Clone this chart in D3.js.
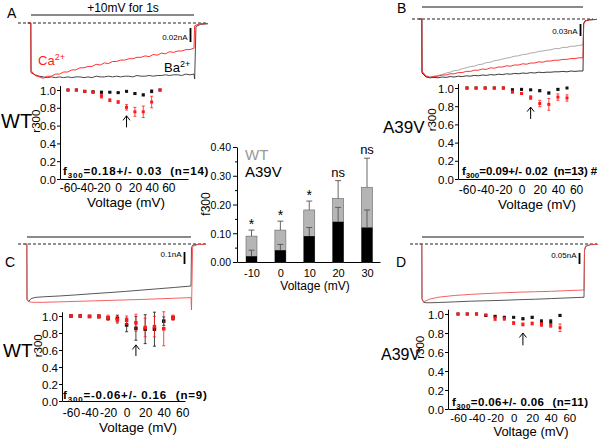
<!DOCTYPE html>
<html><head><meta charset="utf-8">
<script src="https://cdn.jsdelivr.net/npm/d3@7"></script>
<style>
html,body{margin:0;padding:0;background:#fff;}
svg{display:block;font-family:"Liberation Sans",Arial,Helvetica,sans-serif;}
</style></head><body>
<svg id="fig" width="600" height="439"></svg>
<script>
// ---------------- DATA ----------------
const voltages = [-60,-50,-40,-30,-20,-10,0,10,20,30,40,50];
const xTickLabels = [-60,-40,-20,0,20,40,60];
const yTickLabels = [0,0.2,0.4,0.6,0.8,1.0];

const panelA_redR300   = [1.0,1.0,0.985,0.975,0.93,0.885,0.865,0.805,0.755,0.755,0.865,1.0];
const panelA_redErr    = [0,0,0.005,0.01,0.02,0.015,0.015,0.03,0.05,0.065,0.065,0];
const panelA_blackR300 = [1.0,1.0,0.985,0.98,0.975,0.975,0.97,0.985,0.96,0.945,0.985,1.0];
const panelA_blackErr  = [0,0,0.005,0.005,0.01,0.005,0.005,0.005,0.01,0.01,0.015,0];

const panelB_redR300   = [1,1,1,1,1,0.955,0.94,0.895,0.83,0.82,0.9,0.89];
const panelB_redErr    = [0,0,0,0,0,0.01,0.01,0.02,0.035,0.065,0.035,0.035];
const panelB_blackR300 = [1,1,1,1,1,0.98,0.985,0.98,0.97,0.945,0.985,1.0];
const panelB_blackErr  = [0,0,0,0,0,0.01,0.01,0.005,0.01,0.01,0.01,0];

const panelC_redR300   = [1.0,1.0,0.995,0.995,0.98,0.955,0.95,0.92,0.865,0.875,0.85,0.98];
const panelC_redErr    = [0,0,0.01,0.02,0.03,0.04,0.05,0.1,0.11,0.12,0.2,0.03];
const panelC_blackR300 = [1.0,1.0,0.995,0.995,0.975,0.97,0.895,0.855,0.845,0.845,0.94,0.98];
const panelC_blackErr  = [0,0,0.01,0.015,0.02,0.04,0.08,0.14,0.17,0.2,0.05,0.02];

const panelD_redR300   = [1,1,1,0.99,0.95,0.95,0.905,0.89,0.9,0.89,0.88,0.855];
const panelD_redErr    = [0,0,0,0,0.02,0.015,0.015,0.015,0.015,0.02,0.02,0.04];
const panelD_blackR300 = [1,1,1,0.985,0.975,0.965,0.965,0.95,0.965,0.92,0.92,0.985];
const panelD_blackErr  = [0,0,0,0.01,0.01,0.01,0.005,0.01,0.01,0.02,0.02,0.01];

const f300Text = ["0.18+/- 0.03","0.09+/- 0.02","-0.06+/- 0.16","0.06+/- 0.06"];
const nCells   = [14,13,9,11];
const groupNames = ["WT","A39V","WT","A39V"];
const sigMarks = ["","#","",""];

// current traces (ms, nA)
const traceTimeAB = [-20,-1,0,25,50,75,100,125,150,175,200,225,250,275,300,325,350,375,400,425,450,475,500,525,550,575,600,625,650,675,700,725,750,775,800,825,850,875,900,925,950,975,1000,1004,1012,1040,1085];
const traceA_Ca = [0,0,-0.068,-0.075,-0.077,-0.079,-0.076,-0.076,-0.073,-0.073,-0.070,-0.070,-0.067,-0.067,-0.064,-0.064,-0.062,-0.062,-0.059,-0.060,-0.057,-0.058,-0.055,-0.055,-0.053,-0.053,-0.051,-0.051,-0.049,-0.049,-0.047,-0.048,-0.045,-0.046,-0.043,-0.044,-0.041,-0.042,-0.040,-0.040,-0.038,-0.038,-0.036,-0.004,-0.003,-0.001,-0.001];
const traceA_Ba = [0,0,-0.071,-0.074,-0.076,-0.077,-0.078,-0.077,-0.078,-0.077,-0.078,-0.077,-0.078,-0.077,-0.077,-0.078,-0.077,-0.078,-0.076,-0.077,-0.077,-0.076,-0.077,-0.076,-0.077,-0.076,-0.076,-0.077,-0.075,-0.076,-0.076,-0.075,-0.076,-0.075,-0.075,-0.074,-0.075,-0.074,-0.074,-0.075,-0.073,-0.074,-0.073,-0.080,-0.005,-0.002,-0.001];
const traceB_gray = [0,0,-0.130,-0.142,-0.145,-0.143,-0.141,-0.139,-0.135,-0.133,-0.129,-0.128,-0.124,-0.122,-0.119,-0.118,-0.114,-0.113,-0.109,-0.108,-0.104,-0.103,-0.100,-0.098,-0.096,-0.093,-0.092,-0.089,-0.088,-0.085,-0.084,-0.081,-0.080,-0.078,-0.077,-0.074,-0.074,-0.071,-0.071,-0.068,-0.068,-0.066,-0.065,-0.012,-0.005,-0.002,-0.001];
const traceB_red = [0,0,-0.132,-0.143,-0.146,-0.144,-0.143,-0.140,-0.140,-0.137,-0.137,-0.134,-0.134,-0.131,-0.131,-0.128,-0.128,-0.125,-0.126,-0.122,-0.123,-0.120,-0.120,-0.117,-0.118,-0.115,-0.115,-0.112,-0.113,-0.110,-0.110,-0.107,-0.108,-0.105,-0.105,-0.103,-0.103,-0.101,-0.101,-0.099,-0.099,-0.097,-0.097,-0.012,-0.005,-0.002,-0.001];
const traceB_black = [0,0,-0.135,-0.145,-0.147,-0.146,-0.147,-0.145,-0.146,-0.144,-0.145,-0.143,-0.144,-0.142,-0.143,-0.141,-0.142,-0.140,-0.141,-0.139,-0.140,-0.138,-0.139,-0.137,-0.138,-0.136,-0.137,-0.135,-0.136,-0.134,-0.135,-0.133,-0.134,-0.133,-0.133,-0.132,-0.132,-0.131,-0.132,-0.130,-0.131,-0.130,-0.130,-0.012,-0.005,-0.002,-0.001];

const traceTimeCD = [-15,-1,0,10,25,50,100,200,300,400,500,600,700,800,900,1000,1003,1010,1040,1085];
const traceC_red   = [0,0,-0.46,-0.48,-0.485,-0.486,-0.486,-0.482,-0.478,-0.474,-0.470,-0.466,-0.462,-0.457,-0.452,-0.447,-0.55,-0.02,-0.005,-0.003];
const traceC_black = [0,0,-0.46,-0.48,-0.455,-0.445,-0.44,-0.433,-0.424,-0.414,-0.405,-0.395,-0.384,-0.373,-0.362,-0.35,-0.03,-0.01,-0.004,-0.002];
const traceD_red   = [0,0,-0.25,-0.262,-0.258,-0.25,-0.242,-0.234,-0.229,-0.225,-0.222,-0.219,-0.217,-0.215,-0.212,-0.209,-0.03,-0.01,-0.003,-0.001];
const traceD_black = [0,0,-0.25,-0.265,-0.267,-0.267,-0.266,-0.263,-0.26,-0.258,-0.256,-0.253,-0.251,-0.248,-0.245,-0.242,-0.03,-0.01,-0.003,-0.001];
const scaleBarNA = [0.02,0.03,0.1,0.05];

// centre bar chart
const barVoltages = [-10,0,10,20,30];
const wtF300   = [0.09,0.111,0.181,0.221,0.26];
const wtErr    = [0.021,0.031,0.031,0.062,0.101];
const a39vF300 = [0.02,0.041,0.09,0.14,0.12];
const a39vErr  = [0.021,0.02,0.03,0.05,0.061];
const sigLabels = ["*","*","*","ns","ns"];
const barYTicks = [0,0.1,0.2,0.3,0.4];

// ---------------- DRAW ----------------
const svg = d3.select("#fig");
const RED = "#ff1a1a";

function styleAxis(g, size) {
  g.attr("font-family", null).attr("font-size", null);
  g.selectAll(".domain").attr("stroke", "#000").attr("stroke-width", 1);
  g.selectAll(".tick line").attr("stroke", "#000");
  g.selectAll("text").attr("fill", "#000").style("font-size", size + "px");
}

function drawTraces(cfg, time, series, scaleNA) {
  const g = svg.append("g");
  const x = d3.scaleLinear().domain([0, 1000]).range([cfg.x0, cfg.x1]);
  const y = d3.scaleLinear().domain([0, -0.1]).range([cfg.base, cfg.base + 0.1 * cfg.pxPerNA]);
  g.append("line").attr("x1", x(0)).attr("x2", x(1000)).attr("y1", cfg.stimY).attr("y2", cfg.stimY)
    .attr("stroke", "#8a8a8a").attr("stroke-width", 2);
  g.append("line").attr("x1", x(cfg.dash0)).attr("x2", x(cfg.dash1)).attr("y1", y(0)).attr("y2", y(0))
    .attr("stroke", "#222").attr("stroke-width", 1).attr("stroke-dasharray", "3,2");
  const line = d3.line().x((d, i) => x(time[i])).y(d => y(d));
  series.forEach(s => {
    g.append("path").attr("d", line(s.values)).attr("fill", "none")
      .attr("stroke", s.color).attr("stroke-width", s.w || 0.9).attr("stroke-linejoin", "round");
  });
  g.append("line").attr("x1", cfg.sbX).attr("x2", cfg.sbX)
    .attr("y1", cfg.sbTop).attr("y2", cfg.sbTop + (y(-scaleNA) - y(0)))
    .attr("stroke", "#000").attr("stroke-width", 1.8);
  g.append("text").attr("x", cfg.sbX - 3).attr("y", cfg.sbLabelY).attr("text-anchor", "end")
    .style("font-size", "8px").text(scaleNA + "nA");
  return g;
}

function drawScatter(cfg, idx, red, redErr, black, blackErr) {
  const g = svg.append("g");
  const x = d3.scaleLinear().domain([-60, 50]).range([cfg.x60, cfg.x50]);
  const y = d3.scaleLinear().domain([0, 1]).range([cfg.y0, cfg.y1]);
  const xa = x.copy().domain([x.invert(cfg.axisX), x.invert(cfg.axisEnd)]).range([cfg.axisX, cfg.axisEnd]);
  const gx = g.append("g").attr("transform", `translate(0,${cfg.y0})`)
    .call(d3.axisBottom(xa).tickValues(xTickLabels).tickSize(0).tickSizeOuter(0).tickFormat(d => String(d)));
  styleAxis(gx, cfg.xTickSize || 12);
  gx.selectAll("text").attr("y", cfg.tickBase - cfg.y0).attr("dy", 0);
  const ya = y.copy().domain([0, 1.05]).range([cfg.y0, y(1.05)]);
  const gy = g.append("g").attr("transform", `translate(${cfg.axisX},0)`)
    .call(d3.axisLeft(ya).tickValues(yTickLabels).tickSize(3).tickSizeOuter(0).tickPadding(1).tickFormat(d3.format(".1f")));
  styleAxis(gy, 11.5);
  gy.selectAll("text").attr("dy", "0.36em");

  g.append("text").attr("x", cfg.titleX).attr("y", cfg.titleBase).attr("text-anchor", "middle")
    .style("font-size", (cfg.titleSize || 13.5) + "px").text("Voltage (mV)");
  g.append("text").attr("transform", `translate(${cfg.r300X},${y(0.65)}) rotate(-90)`)
    .attr("text-anchor", "middle").style("font-size", "11.5px").text("r300");
  g.append("text").attr("x", cfg.grpX).attr("y", cfg.grpBase)
    .style("font-size", cfg.grpSize + "px").text(groupNames[idx]);

  const ft = g.append("text").attr("x", cfg.fX).attr("y", cfg.fBase)
    .style("font-size", "11.5px").style("font-weight", "bold").style("letter-spacing", cfg.fSpacing + "px");
  ft.append("tspan").text("f");
  ft.append("tspan").attr("dy", 2.5).style("font-size", "8px").text("300");
  ft.append("tspan").attr("dy", -2.5).text("=" + f300Text[idx]);
  ft.append("tspan").attr("dx", cfg.fGap).text("(n=" + nCells[idx] + ")");
  if (sigMarks[idx]) ft.append("tspan").attr("dx", 3).text(sigMarks[idx]);

  const sq = cfg.sq;
  function series(vals, errs, col) {
    voltages.forEach((v, i) => {
      if (errs[i] > 0) {
        const cx = x(v);
        g.append("line").attr("x1", cx).attr("x2", cx).attr("y1", y(vals[i] - errs[i])).attr("y2", y(vals[i] + errs[i]))
          .attr("stroke", col).attr("stroke-width", 0.8);
        [vals[i] - errs[i], vals[i] + errs[i]].forEach(e => {
          g.append("line").attr("x1", cx - 1.5).attr("x2", cx + 1.5).attr("y1", y(e)).attr("y2", y(e))
            .attr("stroke", col).attr("stroke-width", 0.8);
        });
      }
    });
    g.selectAll(null).data(vals).enter().append("rect")
      .attr("x", (d, i) => x(voltages[i]) - sq / 2).attr("y", d => y(d) - sq / 2)
      .attr("width", sq).attr("height", sq).attr("fill", col);
  }
  series(black, blackErr, "#111");
  series(red, redErr, RED);

  const ax = x(10), tip = y(cfg.arrowTip), tail = y(cfg.arrowTail);
  g.append("path").attr("d", `M${ax},${tail}L${ax},${tip}M${ax - 3.5},${tip + 4.5}L${ax},${tip}L${ax + 3.5},${tip + 4.5}`)
    .attr("fill", "none").attr("stroke", "#000").attr("stroke-width", 1);
}

function panelLetter(t, x, y) {
  svg.append("text").attr("x", x).attr("y", y).style("font-size", "14px").text(t);
}

// ---- Panel A ----
panelLetter("A", 7, 18);
drawTraces({x0: 31, x1: 194, base: 23, pxPerNA: 700, stimY: 15, dash0: -80, dash1: 1086,
  sbX: 190.5, sbTop: 28, sbLabelY: 40}, traceTimeAB,
  [{values: traceA_Ba, color: "#333"}, {values: traceA_Ca, color: RED}], scaleBarNA[0]);
svg.append("text").attr("x", 123).attr("y", 12).attr("text-anchor", "middle").style("font-size", "12px").text("+10mV for 1s");
{
  const t = svg.append("text").attr("x", 38).attr("y", 65).attr("fill", RED).style("font-size", "13px");
  t.append("tspan").text("Ca");
  t.append("tspan").attr("dy", -5).style("font-size", "9px").text("2+");
  const b = svg.append("text").attr("x", 164).attr("y", 72).attr("fill", "#000").style("font-size", "13px");
  b.append("tspan").text("Ba");
  b.append("tspan").attr("dy", -5).style("font-size", "9px").text("2+");
}
drawScatter({x60: 68, x50: 160, axisX: 60, axisEnd: 188, y0: 179, y1: 90, tickBase: 192,
  titleX: 126, titleBase: 207, r300X: 40, grpX: 1, grpBase: 128, grpSize: 20, fX: 63, fBase: 175, fSpacing: 0.8, fGap: 8,
  sq: 3, arrowTip: 0.71, arrowTail: 0.58}, 0, panelA_redR300, panelA_redErr, panelA_blackR300, panelA_blackErr);

// ---- Panel B ----
panelLetter("B", 397, 13);
drawTraces({x0: 422, x1: 583, base: 19, pxPerNA: 400, stimY: 7, dash0: -62, dash1: 1062,
  sbX: 580.5, sbTop: 24, sbLabelY: 34}, traceTimeAB,
  [{values: traceB_gray, color: "#a0a0a0"}, {values: traceB_black, color: "#222"}, {values: traceB_red, color: RED}], scaleBarNA[1]);
drawScatter({x60: 467, x50: 567, axisX: 458, axisEnd: 580, y0: 179, y1: 88, tickBase: 194,
  titleX: 537, titleBase: 209, r300X: 436, grpX: 383, grpBase: 133, grpSize: 17, fX: 462, fBase: 175, fSpacing: 0, fGap: 6,
  sq: 3, arrowTip: 0.79, arrowTail: 0.66}, 1, panelB_redR300, panelB_redErr, panelB_blackR300, panelB_blackErr);

// ---- Panel C ----
panelLetter("C", 5, 267);
drawTraces({x0: 27, x1: 191, base: 244, pxPerNA: 120, stimY: 237, dash0: -55, dash1: 1097,
  sbX: 184.5, sbTop: 252, sbLabelY: 257}, traceTimeCD,
  [{values: traceC_black, color: "#444"}, {values: traceC_red, color: "#f05050"}], scaleBarNA[2]);
drawScatter({x60: 71, x50: 173, axisX: 62, axisEnd: 185, y0: 401, y1: 316, tickBase: 417,
  titleX: 138, titleBase: 432, r300X: 42, grpX: 3, grpBase: 357, grpSize: 19, fX: 63, fBase: 399, fSpacing: 0.8, fGap: 9,
  sq: 3.5, arrowTip: 0.66, arrowTail: 0.53}, 2, panelC_redR300, panelC_redErr, panelC_blackR300, panelC_blackErr);

// ---- Panel D ----
panelLetter("D", 396, 267);
drawTraces({x0: 422, x1: 584, base: 244, pxPerNA: 220, stimY: 237, dash0: -74, dash1: 1080,
  sbX: 579.5, sbTop: 253, sbLabelY: 258}, traceTimeCD,
  [{values: traceD_black, color: "#444"}, {values: traceD_red, color: "#f05050"}], scaleBarNA[3]);
drawScatter({x60: 458, x50: 560, axisX: 448, axisEnd: 567, y0: 409, y1: 314, tickBase: 422, xTickSize: 11.5,
  titleX: 531, titleBase: 436, titleSize: 13, r300X: 424, grpX: 381, grpBase: 360, grpSize: 16, fX: 452, fBase: 406, fSpacing: 0.4, fGap: 8,
  sq: 3, arrowTip: 0.8, arrowTail: 0.67}, 3, panelD_redR300, panelD_redErr, panelD_blackR300, panelD_blackErr);

// ---- Centre bar chart ----
{
  const g = svg.append("g");
  const x = d3.scaleLinear().domain([-10, 30]).range([251.5, 367]);
  const y = d3.scaleLinear().domain([0, 0.4]).range([262, 147]);
  const bw = 11;
  const xa = x.copy().domain([x.invert(237), x.invert(380)]).range([237, 380]);
  const gx = g.append("g").attr("transform", "translate(0,262)")
    .call(d3.axisBottom(xa).tickValues(barVoltages).tickSize(0).tickSizeOuter(0).tickFormat(d => String(d)));
  styleAxis(gx, 11);
  gx.selectAll("text").attr("y", 15).attr("dy", 0);
  const gy = g.append("g").attr("transform", "translate(237,0)")
    .call(d3.axisLeft(y).tickValues(barYTicks).tickSize(4).tickSizeOuter(0).tickPadding(2).tickFormat(d3.format(".2f")));
  styleAxis(gy, 10.5);
  gy.selectAll("text").attr("dy", "0.36em");
  const gm = g.append("g").attr("transform", "translate(237,0)")
    .call(d3.axisLeft(y).tickValues([0.05, 0.15, 0.25, 0.35]).tickSize(2).tickFormat(""));
  gm.select(".domain").remove();
  gm.selectAll(".tick line").attr("stroke", "#000");

  g.selectAll(null).data(wtF300).enter().append("rect")
    .attr("x", (d, i) => x(barVoltages[i]) - bw / 2).attr("y", d => y(d))
    .attr("width", bw).attr("height", d => y(0) - y(d))
    .attr("fill", "#b5b5b5").attr("stroke", "#666").attr("stroke-width", 0.6);
  function errs(vals, e, col) {
    vals.forEach((v, i) => {
      const cx = x(barVoltages[i]);
      g.append("line").attr("x1", cx).attr("x2", cx).attr("y1", y(v)).attr("y2", y(v + e[i])).attr("stroke", col).attr("stroke-width", 0.9);
      g.append("line").attr("x1", cx - 3).attr("x2", cx + 3).attr("y1", y(v + e[i])).attr("y2", y(v + e[i])).attr("stroke", col).attr("stroke-width", 0.9);
    });
  }
  errs(wtF300, wtErr, "#555");
  g.selectAll(null).data(a39vF300).enter().append("rect")
    .attr("x", (d, i) => x(barVoltages[i]) - bw / 2).attr("y", d => y(d))
    .attr("width", bw).attr("height", d => y(0) - y(d)).attr("fill", "#000");
  errs(a39vF300, a39vErr, "#555");

  sigLabels.forEach((s, i) => {
    const top = y(wtF300[i] + wtErr[i]);
    g.append("text").attr("x", x(barVoltages[i])).attr("y", s === "*" ? top - 1 : top - 4)
      .attr("text-anchor", "middle").style("font-size", s === "*" ? "14px" : "13px").text(s);
  });
  g.append("text").attr("x", 245).attr("y", 160).attr("fill", "#999").style("font-size", "15px").text("WT");
  g.append("text").attr("x", 245).attr("y", 177).attr("fill", "#000").style("font-size", "15px").text("A39V");
  g.append("text").attr("transform", "translate(210,204) rotate(-90)").attr("text-anchor", "middle")
    .style("font-size", "12px").text("f300");
  g.append("text").attr("x", 315).attr("y", 290).attr("text-anchor", "middle").style("font-size", "12px").text("Voltage (mV)");
}
</script></body></html>
